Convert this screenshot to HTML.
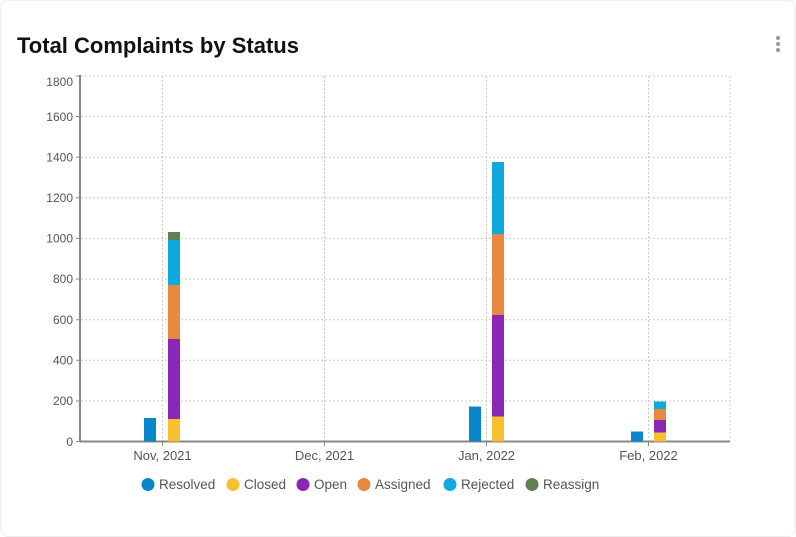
<!DOCTYPE html>
<html><head><meta charset="utf-8"><style>
body{margin:0;background:#fff;width:796px;height:537px;overflow:hidden;font-family:"Liberation Sans",sans-serif;}
.card{position:absolute;left:0;top:0;width:794px;height:535px;border:1px solid #eee;border-radius:8px;}
</style></head><body>
<div class="card"></div>
<svg width="796" height="537" style="position:absolute;left:0;top:0" font-family="Liberation Sans, sans-serif">
<text x="17" y="53" font-size="22" font-weight="bold" fill="#111">Total Complaints by Status</text>
<g fill="#999"><circle cx="778" cy="38" r="2"/><circle cx="778" cy="44" r="2"/><circle cx="778" cy="50" r="2"/></g>
<g stroke="#ccc" stroke-dasharray="2,2" stroke-width="1">
<line x1="81" x2="730" y1="76" y2="76"/><line x1="81" x2="730" y1="116.5" y2="116.5"/><line x1="81" x2="730" y1="157.2" y2="157.2"/><line x1="81" x2="730" y1="197.8" y2="197.8"/><line x1="81" x2="730" y1="238.4" y2="238.4"/><line x1="81" x2="730" y1="279" y2="279"/><line x1="81" x2="730" y1="319.7" y2="319.7"/><line x1="81" x2="730" y1="360.3" y2="360.3"/><line x1="81" x2="730" y1="401" y2="401"/>
<line x1="162.5" x2="162.5" y1="76" y2="441"/><line x1="324.5" x2="324.5" y1="76" y2="441"/><line x1="486.5" x2="486.5" y1="76" y2="441"/><line x1="648.5" x2="648.5" y1="76" y2="441"/><line x1="730" x2="730" y1="76" y2="441"/>
</g>
<g stroke="#888" stroke-width="2"><line x1="80" x2="80" y1="75" y2="442"/><line x1="80" x2="730" y1="441.5" y2="441.5"/></g>
<g stroke="#888" stroke-width="1"><line x1="76" x2="80" y1="76" y2="76"/><line x1="76" x2="80" y1="116.5" y2="116.5"/><line x1="76" x2="80" y1="157.2" y2="157.2"/><line x1="76" x2="80" y1="197.8" y2="197.8"/><line x1="76" x2="80" y1="238.4" y2="238.4"/><line x1="76" x2="80" y1="279" y2="279"/><line x1="76" x2="80" y1="319.7" y2="319.7"/><line x1="76" x2="80" y1="360.3" y2="360.3"/><line x1="76" x2="80" y1="401" y2="401"/><line x1="76" x2="80" y1="441.5" y2="441.5"/>
<line x1="162.5" x2="162.5" y1="441" y2="446"/><line x1="324.5" x2="324.5" y1="441" y2="446"/><line x1="486.5" x2="486.5" y1="441" y2="446"/><line x1="648.5" x2="648.5" y1="441" y2="446"/></g>
<g font-size="12" fill="#555" text-anchor="end">
<text x="73" y="86">1800</text><text x="73" y="121">1600</text><text x="73" y="161.5">1400</text><text x="73" y="202">1200</text><text x="73" y="242.5">1000</text><text x="73" y="283">800</text><text x="73" y="324">600</text><text x="73" y="364.5">400</text><text x="73" y="405">200</text><text x="73" y="446">0</text>
</g>
<g font-size="13" fill="#555" text-anchor="middle">
<text x="162.5" y="460">Nov, 2021</text><text x="324.5" y="460">Dec, 2021</text><text x="486.5" y="460">Jan, 2022</text><text x="648.5" y="460">Feb, 2022</text>
</g>
<rect x="144" y="418" width="12" height="23.5" fill="#0a87cc"/>
<rect x="168" y="419" width="12" height="22.5" fill="#f8bf2e"/>
<rect x="168" y="339" width="12" height="80" fill="#8b27b6"/>
<rect x="168" y="285" width="12" height="54" fill="#e8893e"/>
<rect x="168" y="240" width="12" height="45" fill="#0eaadf"/>
<rect x="168" y="232" width="12" height="8" fill="#5f7f55"/>
<rect x="469" y="406.5" width="12" height="35" fill="#0a87cc"/>
<rect x="492" y="416.5" width="12" height="25" fill="#f8bf2e"/>
<rect x="492" y="315" width="12" height="101.5" fill="#8b27b6"/>
<rect x="492" y="234" width="12" height="81" fill="#e8893e"/>
<rect x="492" y="162" width="12" height="72" fill="#0eaadf"/>
<rect x="631" y="431.5" width="12" height="10" fill="#0a87cc"/>
<rect x="654" y="432.5" width="12" height="9" fill="#f8bf2e"/>
<rect x="654" y="420" width="12" height="12.5" fill="#8b27b6"/>
<rect x="654" y="409" width="12" height="11" fill="#e8893e"/>
<rect x="654" y="401.5" width="12" height="7.5" fill="#0eaadf"/>
<g font-size="13.5" fill="#555">
<circle cx="148" cy="484.5" r="6.5" fill="#0a87cc"/><text x="159" y="489">Resolved</text>
<circle cx="233" cy="484.5" r="6.5" fill="#f8bf2e"/><text x="244" y="489">Closed</text>
<circle cx="303" cy="484.5" r="6.5" fill="#8b27b6"/><text x="314" y="489">Open</text>
<circle cx="364" cy="484.5" r="6.5" fill="#e8893e"/><text x="375" y="489">Assigned</text>
<circle cx="450" cy="484.5" r="6.5" fill="#0eaadf"/><text x="461" y="489">Rejected</text>
<circle cx="532" cy="484.5" r="6.5" fill="#5f7f55"/><text x="543" y="489">Reassign</text>
</g>
</svg>
</body></html>
